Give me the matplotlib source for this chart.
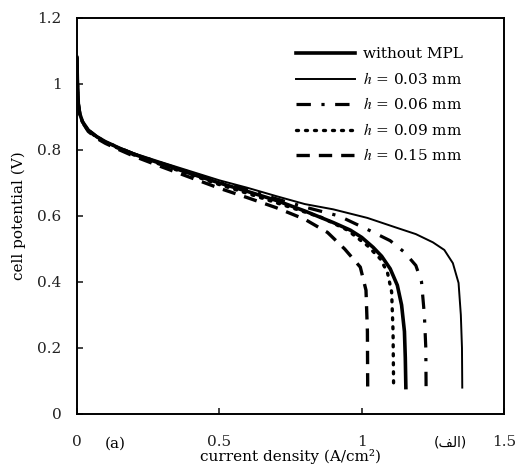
import matplotlib
matplotlib.use("Agg")
import matplotlib.pyplot as plt

plt.rcParams["font.family"] = ["DejaVu Serif"]
plt.rcParams["mathtext.fontset"] = "stix"

# --- polarization curves ---
j_low = [0, 0.002, 0.005, 0.01, 0.02, 0.04, 0.07, 0.1, 0.15, 0.2, 0.3, 0.4]

j_nompl = j_low + [0.5, 0.6, 0.7, 0.8, 0.9, 0.96, 1.0, 1.04, 1.07, 1.1, 1.125, 1.14, 1.15, 1.153, 1.155]
v_nompl = [1.08, 1.0, 0.94, 0.91, 0.885, 0.86, 0.84, 0.825, 0.805, 0.787, 0.757, 0.728,
           0.700, 0.674, 0.647, 0.615, 0.58, 0.557, 0.535, 0.505, 0.478, 0.44, 0.39, 0.33, 0.25, 0.17, 0.08]

j_h003 = j_low + [0.5, 0.6, 0.7, 0.8, 0.9, 1.02, 1.12, 1.19, 1.25, 1.29, 1.32, 1.34, 1.348, 1.352, 1.353]
v_h003 = [1.08, 1.0, 0.94, 0.91, 0.885, 0.86, 0.84, 0.826, 0.807, 0.79, 0.762, 0.735,
          0.708, 0.685, 0.66, 0.636, 0.62, 0.594, 0.565, 0.545, 0.52, 0.497, 0.457, 0.397, 0.30, 0.20, 0.08]

j_h006 = j_low + [0.5, 0.6, 0.7, 0.8, 0.92, 1.03, 1.1, 1.15, 1.19, 1.21, 1.22, 1.225, 1.226]
v_h006 = [1.08, 1.0, 0.94, 0.91, 0.885, 0.86, 0.84, 0.825, 0.806, 0.788, 0.759, 0.731,
          0.703, 0.679, 0.652, 0.627, 0.60, 0.555, 0.525, 0.49, 0.45, 0.40, 0.30, 0.20, 0.08]

j_h009 = j_low + [0.5, 0.6, 0.7, 0.8, 0.86, 0.95, 1.02, 1.065, 1.09, 1.105, 1.11, 1.112]
v_h009 = [1.08, 1.0, 0.94, 0.91, 0.884, 0.858, 0.838, 0.823, 0.803, 0.785, 0.754, 0.725,
          0.695, 0.668, 0.640, 0.612, 0.595, 0.557, 0.51, 0.47, 0.43, 0.37, 0.25, 0.08]

j_h015 = j_low + [0.5, 0.6, 0.7, 0.8, 0.88, 0.94, 0.995, 1.015, 1.02, 1.021]
v_h015 = [1.08, 1.0, 0.94, 0.91, 0.883, 0.856, 0.835, 0.82, 0.8, 0.781, 0.748, 0.716,
          0.684, 0.655, 0.625, 0.59, 0.55, 0.50, 0.445, 0.375, 0.25, 0.08]

labels = ["without MPL", "$h$ = 0.03 mm", "$h$ = 0.06 mm", "$h$ = 0.09 mm", "$h$ = 0.15 mm"]
x_ticks = [0, 0.5, 1, 1.5]
x_ticklabels = ["0", "0.5", "1", "1.5"]
y_ticks = [0, 0.2, 0.4, 0.6, 0.8, 1.0, 1.2]
y_ticklabels = ["0", "0.2", "0.4", "0.6", "0.8", "1", "1.2"]

fig = plt.figure(figsize=(5.16, 4.66), dpi=100)
ax = fig.add_axes([0.149, 0.1116, 0.828, 0.85])

ax.plot(j_nompl, v_nompl, color="black", lw=2.6, label=labels[0])
ax.plot(j_h003, v_h003, color="black", lw=1.4, label=labels[1])
ax.plot(j_h006, v_h006, color="black", lw=2.3, dashes=(4.5, 3.3, 1, 3.3), label=labels[2])
ax.plot(j_h009, v_h009, color="black", lw=2.4, dashes=(0.6, 2.1),
        dash_capstyle="round", label=labels[3])
ax.plot(j_h015, v_h015, color="black", lw=2.4, dashes=(4, 2.7), label=labels[4])

ax.set_xlim(0, 1.5)
ax.set_ylim(0, 1.2)
ax.set_xticks(x_ticks, x_ticklabels)
ax.set_yticks(y_ticks, y_ticklabels)
ax.tick_params(direction="in", length=4, width=1.2, labelsize=11, colors="#222222")
ax.tick_params(axis="x", pad=15)
ax.tick_params(axis="y", pad=11)
for s in ax.spines.values():
    s.set_linewidth(1.4)

ax.set_xlabel("current density (A/cm²)", fontsize=11)
ax.xaxis.set_label_coords(0.5, -0.088)
ax.set_ylabel("cell potential (V)", fontsize=11, labelpad=8)

fig.text(115 / 516, 1 - 444 / 466, "(a)", fontsize=11, ha="center", va="center")
fig.text(450 / 516, 1 - 442 / 466, "(\ufed2\ufedf\ufe8d)", fontsize=10,
         family=["DejaVu Sans"], ha="center", va="center")

ax.legend(loc="upper right", bbox_to_anchor=(0.935, 0.96), frameon=False, fontsize=11,
          handlelength=3.9, handletextpad=0.5, labelspacing=0.62)

fig.savefig("out.png", dpi=100)
